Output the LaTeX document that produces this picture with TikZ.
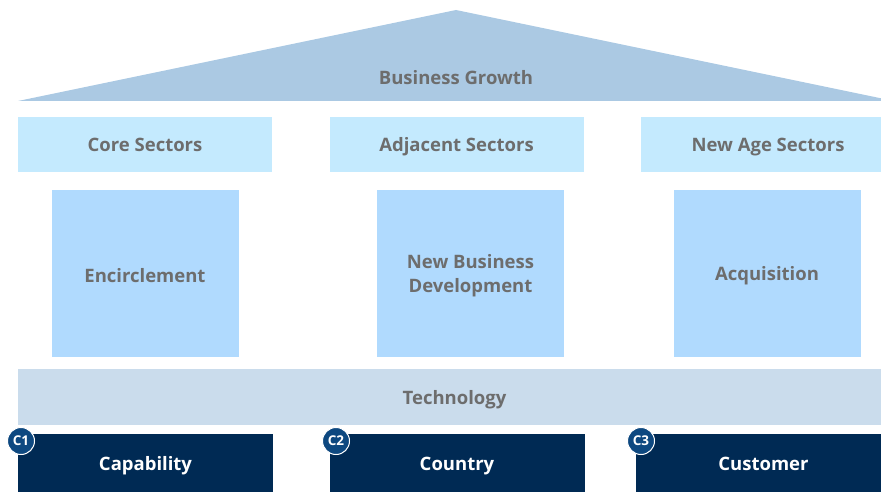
\documentclass[tikz,border=0pt]{standalone}
\usepackage{fontspec}
\setmainfont{Open Sans}
\usepackage{tikz}
\usetikzlibrary{positioning}
\definecolor{RoofBlue}{HTML}{ABC9E3}
\definecolor{SectorSky}{HTML}{C4EAFE}
\definecolor{PillarSky}{HTML}{B0DAFE}
\definecolor{TechGrey}{HTML}{CADCEC}
\definecolor{BaseNavy}{HTML}{002A54}
\definecolor{BadgeBlue}{HTML}{0D4880}
\definecolor{LabelGrey}{HTML}{6D6D6D}
\tikzset{
  lbl/.style={font=\bfseries\fontsize{18.5}{24}\selectfont,text height=18pt,text depth=3pt},
  sector/.style={lbl,fill=SectorSky,minimum width=254pt,minimum height=55pt,inner sep=0pt,text=LabelGrey},
  pillar/.style={fill=PillarSky,minimum width=187pt,minimum height=167pt,inner sep=0pt},
  pillartxt/.style={align=center,font=\bfseries\fontsize{18.5}{24}\selectfont,text=LabelGrey,yshift=-2.5pt},
  techbar/.style={lbl,fill=TechGrey,minimum width=873pt,minimum height=56pt,inner sep=0pt,text=LabelGrey},
  basebox/.style={lbl,fill=BaseNavy,minimum width=255pt,minimum height=58pt,inner sep=0pt,text=white},
  badge/.style={circle,fill=BadgeBlue,draw=white,line width=1pt,minimum size=27pt,inner sep=0pt,font=\bfseries\fontsize{13.5}{15}\selectfont,text=white}
}
\begin{document}
\begin{tikzpicture}[x=1pt,y=-1pt]
  \useasboundingbox (0,0) rectangle (881,492);
  \clip (0,0) rectangle (881,492);
  % roof
  \fill[RoofBlue] (18,101) -- (456,10) -- (894,101) -- cycle;
  \node[lbl,text=LabelGrey] (growth) at (456,77) {Business Growth};
  % sectors
  \node[sector] (core) at (145,144.5) {Core Sectors};
  \node[sector] (adjacent) at (456.5,144.5) {Adjacent Sectors};
  \node[sector] (newage) at (768,144.5) {New Age Sectors};
  % pillars
  \node[pillar,label={[pillartxt]center:Encirclement}] (encircle) at (145,273.5) {};
  \node[pillar,label={[pillartxt]center:New Business\\Development}] (nbd) at (470.5,273.5) {};
  \node[pillar,label={[pillartxt]center:Acquisition}] (acquire) at (767,273.5) {};
  % foundation
  \node[techbar] (tech) at (454.5,397) {Technology};
  \node[basebox] (capability) at (145.5,463) {Capability};
  \node[basebox] (country) at (457,463) {Country};
  \node[basebox] (customer) at (763.5,463) {Customer};
  \node[badge] (c1) at (21,441) {C1};
  \node[badge] (c2) at (336,441) {C2};
  \node[badge] (c3) at (641,441) {C3};
\end{tikzpicture}
\end{document}
